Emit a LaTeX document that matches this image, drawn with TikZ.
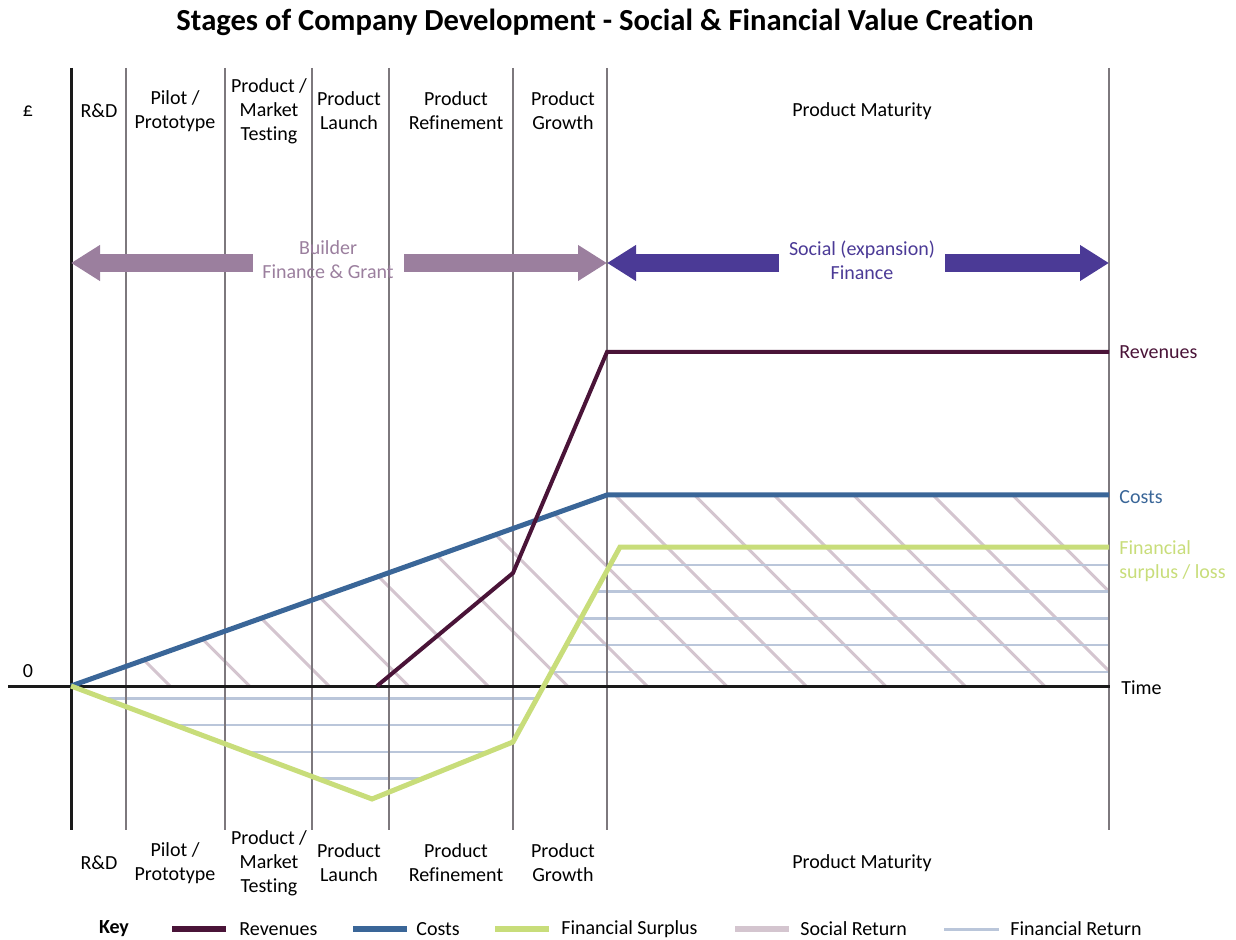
\documentclass[tikz,border=0pt]{standalone}
\usepackage{fontspec}
\setmainfont{Carlito}[Ligatures=NoCommon]
\usetikzlibrary{arrows.meta}

\begin{document}
\begin{tikzpicture}[x=0.5pt,y=-0.5pt,
  txt/.style={align=center,inner sep=0pt,font=\fontsize{10}{12}\selectfont},
  sidetxt/.style={txt,anchor=west,align=left},
  gridline/.style={color=kGrid,line width=0.75pt},
  axisline/.style={color=kAxis,line width=1.5pt},
  fatarrow/.style={line width=9pt,-{Triangle[length=14.5pt,width=17pt]}},
  socialret/.style={color=kSocial,line width=1.5pt},
  finret/.style={color=kFinRet,line width=1.25pt},
  curve/.style={line width=2.5pt,line join=miter}]
  \definecolor{kGrid}{RGB}{125,120,125}
  \definecolor{kAxis}{RGB}{26,26,26}
  \definecolor{kBuilder}{RGB}{155,127,158}
  \definecolor{kExpand}{RGB}{75,58,150}
  \definecolor{kRev}{RGB}{74,20,56}
  \definecolor{kCost}{RGB}{58,102,152}
  \definecolor{kSurplus}{RGB}{200,221,122}
  \definecolor{kSocial}{RGB}{212,197,207}
  \definecolor{kFinRet}{RGB}{186,198,218}

  \useasboundingbox (0,0) rectangle (1236,940);

  \node[font=\fontsize{15.3}{18}\selectfont\bfseries] (title) at (605,22) {Stages of Company Development - Social \& Financial Value Creation};

  % hatching
  \begin{scope}
    \clip (71,686) -- (607,495) -- (1109,495) -- (1109,686) -- cycle;
    \foreach \b in {0,...,13}
      \draw[socialret] ({170+79.5*\b},686) -- ({170+79.5*\b-220},466);
  \end{scope}
  \begin{scope}
    \clip (71,686) -- (372,799) -- (513,742) -- (620,547) -- (1109,547) -- (1109,686) -- cycle;
    \foreach \k in {0,...,8}
      \draw[finret] (71,{565+26.7*\k}) -- (1109,{565+26.7*\k});
  \end{scope}

  \foreach \x in {126,225,312,389,513,607,1109}
    \draw[gridline] (\x,68) -- (\x,830);

  \draw[axisline] (71,68) -- (71,830);
  \draw[axisline] (8,686) -- (1110,686);

  \node[txt] (pound) at (28,111) {£};
  \node[txt] (zero) at (28,671) {0};
  \node[sidetxt] (time) at (1121,688) {Time};

  \node[txt] (rdtop) at (99,111) {R\&D};
  \node[txt] (pilottop) at (175,111) {Pilot /\\Prototype};
  \node[txt] (markettop) at (269,111) {Product /\\Market\\Testing};
  \node[txt] (launchtop) at (349,111) {Product\\Launch};
  \node[txt] (refinetop) at (456,111) {Product\\Refinement};
  \node[txt] (growthtop) at (563,111) {Product\\Growth};
  \node[txt] (maturetop) at (862,111) {Product Maturity};

  \node[txt] (rdbot) at (99,863) {R\&D};
  \node[txt] (pilotbot) at (175,863) {Pilot /\\Prototype};
  \node[txt] (marketbot) at (269,863) {Product /\\Market\\Testing};
  \node[txt] (launchbot) at (349,863) {Product\\Launch};
  \node[txt] (refinebot) at (456,863) {Product\\Refinement};
  \node[txt] (growthbot) at (563,863) {Product\\Growth};
  \node[txt] (maturebot) at (862,863) {Product Maturity};

  \draw[fatarrow,color=kBuilder] (253,263) -- (71,263);
  \draw[fatarrow,color=kBuilder] (404,263) -- (607,263);
  \node[txt,text=kBuilder] (builder) at (328,260) {Builder\\Finance \& Grant};

  \draw[fatarrow,color=kExpand] (779,263) -- (607,263);
  \draw[fatarrow,color=kExpand] (945,263) -- (1109,263);
  \node[txt,text=kExpand] (expand) at (862,260) {Social (expansion)\\Finance};

  \draw[curve,color=kCost] (71,686) -- (607,495) -- (1109,495);
  \draw[curve,color=kRev,line width=2pt] (377,686) -- (513,573) -- (607,352) -- (1109,352);
  \draw[curve,color=kSurplus] (71,686) -- (372,799) -- (513,742) -- (620,547) -- (1109,547);

  \node[sidetxt,text=kRev] (revlabel) at (1119,352) {Revenues};
  \node[sidetxt,text=kCost] (costlabel) at (1119,497) {Costs};
  \node[sidetxt,text=kSurplus] (surpluslabel) at (1119,561) {Financial\\surplus / loss};

  % key
  \node[txt,font=\fontsize{10}{12}\selectfont\bfseries] (key) at (114,929) {Key};
  \draw[color=kRev,line width=3pt] (172,929) -- (226,929);
  \node[sidetxt] (keyrev) at (239,929) {Revenues};
  \draw[color=kCost,line width=3pt] (353,929) -- (407,929);
  \node[sidetxt] (keycost) at (416,929) {Costs};
  \draw[color=kSurplus,line width=3pt] (495,929) -- (549,929);
  \node[sidetxt] (keysurplus) at (561,929) {Financial Surplus};
  \draw[color=kSocial,line width=3pt] (735,929) -- (789,929);
  \node[sidetxt] (keysocial) at (800,929) {Social Return};
  \draw[color=kFinRet,line width=1.5pt] (944,929) -- (999,929);
  \node[sidetxt] (keyfinret) at (1010,929) {Financial Return};

\end{tikzpicture}
\end{document}
